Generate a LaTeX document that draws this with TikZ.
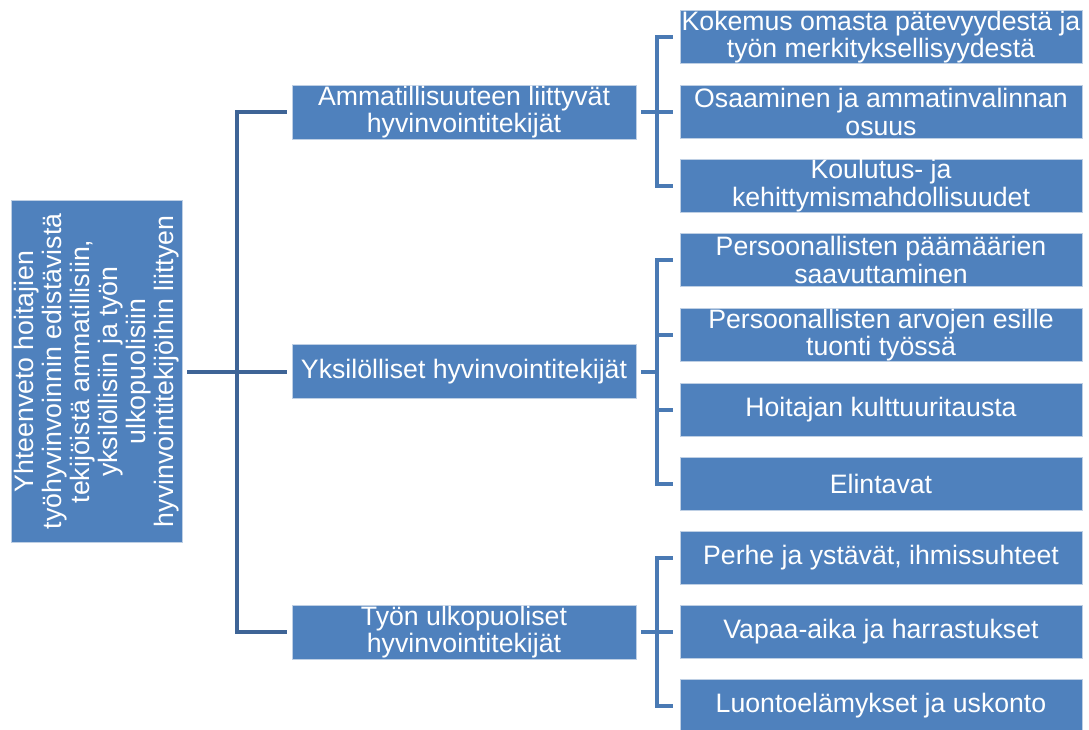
\documentclass[tikz,border=0pt]{standalone}
\usepackage{fontspec}
\setmainfont{Liberation Sans}
\definecolor{boxblue}{RGB}{79,129,189}
\definecolor{boxedge}{RGB}{190,207,228}
\definecolor{conndark}{RGB}{62,100,150}
\definecolor{connblue}{RGB}{74,122,180}
\begin{document}
\begin{tikzpicture}[x=0.75pt,y=-0.75pt,
  box/.style={fill=boxblue, draw=boxedge, line width=0.6pt, text=white,
    font=\fontsize{20}{20.5}\selectfont, align=center, inner sep=0pt},
  lone/.style={box, minimum width=258pt, minimum height=40.5pt},
  ltwo/.style={box, minimum width=301.5pt, minimum height=39.75pt},
  c0/.style={draw=conndark, line width=3pt},
  c1/.style={draw=connblue, line width=3pt}]
\useasboundingbox (0,0) rectangle (1089,729);

% root
\node[box, rotate=90, minimum width=256.5pt, minimum height=128.25pt,
  font=\fontsize{20}{21}\selectfont] (root) at (96.5,371.5)
  {Yhteenveto hoitajien\\ työhyvinvoinnin edistävistä\\ tekijöistä ammatillisiin,\\ yksilöllisiin ja työn\\ ulkopuolisiin\\ hyvinvointitekijöihin liittyen};

% level 1
\node[lone] (la) at (464,112) {Ammatillisuuteen liittyvät\\ hyvinvointitekijät};
\node[lone] (lb) at (464,371.5) {Yksilölliset hyvinvointitekijät};
\node[lone] (lc) at (464,632) {Työn ulkopuoliset\\ hyvinvointitekijät};

% level 2
\node[ltwo] (a1) at (881,37) {Kokemus omasta pätevyydestä ja\\ työn merkityksellisyydestä};
\node[ltwo] (a2) at (881,112) {Osaaminen ja ammatinvalinnan\\ osuus};
\node[ltwo] (a3) at (881,185.5) {Koulutus- ja\\ kehittymismahdollisuudet};

\node[ltwo] (b1) at (881,260) {Persoonallisten päämäärien\\ saavuttaminen};
\node[ltwo] (b2) at (881,335) {Persoonallisten arvojen esille\\ tuonti työssä};
\node[ltwo] (b3) at (881,409.5) {Hoitajan kulttuuritausta};
\node[ltwo] (b4) at (881,483.5) {Elintavat};

\node[ltwo] (c1n) at (881,557.5) {Perhe ja ystävät, ihmissuhteet};
\node[ltwo] (c2n) at (881,632) {Vapaa-aika ja harrastukset};
\node[ltwo] (c3n) at (881,705.5) {Luontoelämykset ja uskonto};

% junctions
\coordinate (j0) at (237,371.5);
\coordinate (ja) at (657,112);
\coordinate (jb) at (657,371.5);
\coordinate (jc) at (657,632);

% root connectors
\draw[c0, shorten <=3.75pt, shorten >=3.75pt] (root.south) -- (lb.west);
\draw[c0, shorten <=3.75pt] (la.west) -| (j0);
\draw[c0, shorten <=3.75pt] (lc.west) -| (j0);

% group a
\draw[c1, shorten <=3.75pt] (la.east) -- (ja);
\foreach \n in {a1,a2,a3} \draw[c1, shorten <=5.25pt] (\n.west) -| (ja);
% group b
\draw[c1, shorten <=3.75pt] (lb.east) -- (jb);
\foreach \n in {b1,b2,b3,b4} \draw[c1, shorten <=5.25pt] (\n.west) -| (jb);
% group c
\draw[c1, shorten <=3.75pt] (lc.east) -- (jc);
\foreach \n in {c1n,c2n,c3n} \draw[c1, shorten <=5.25pt] (\n.west) -| (jc);
\end{tikzpicture}
\end{document}
